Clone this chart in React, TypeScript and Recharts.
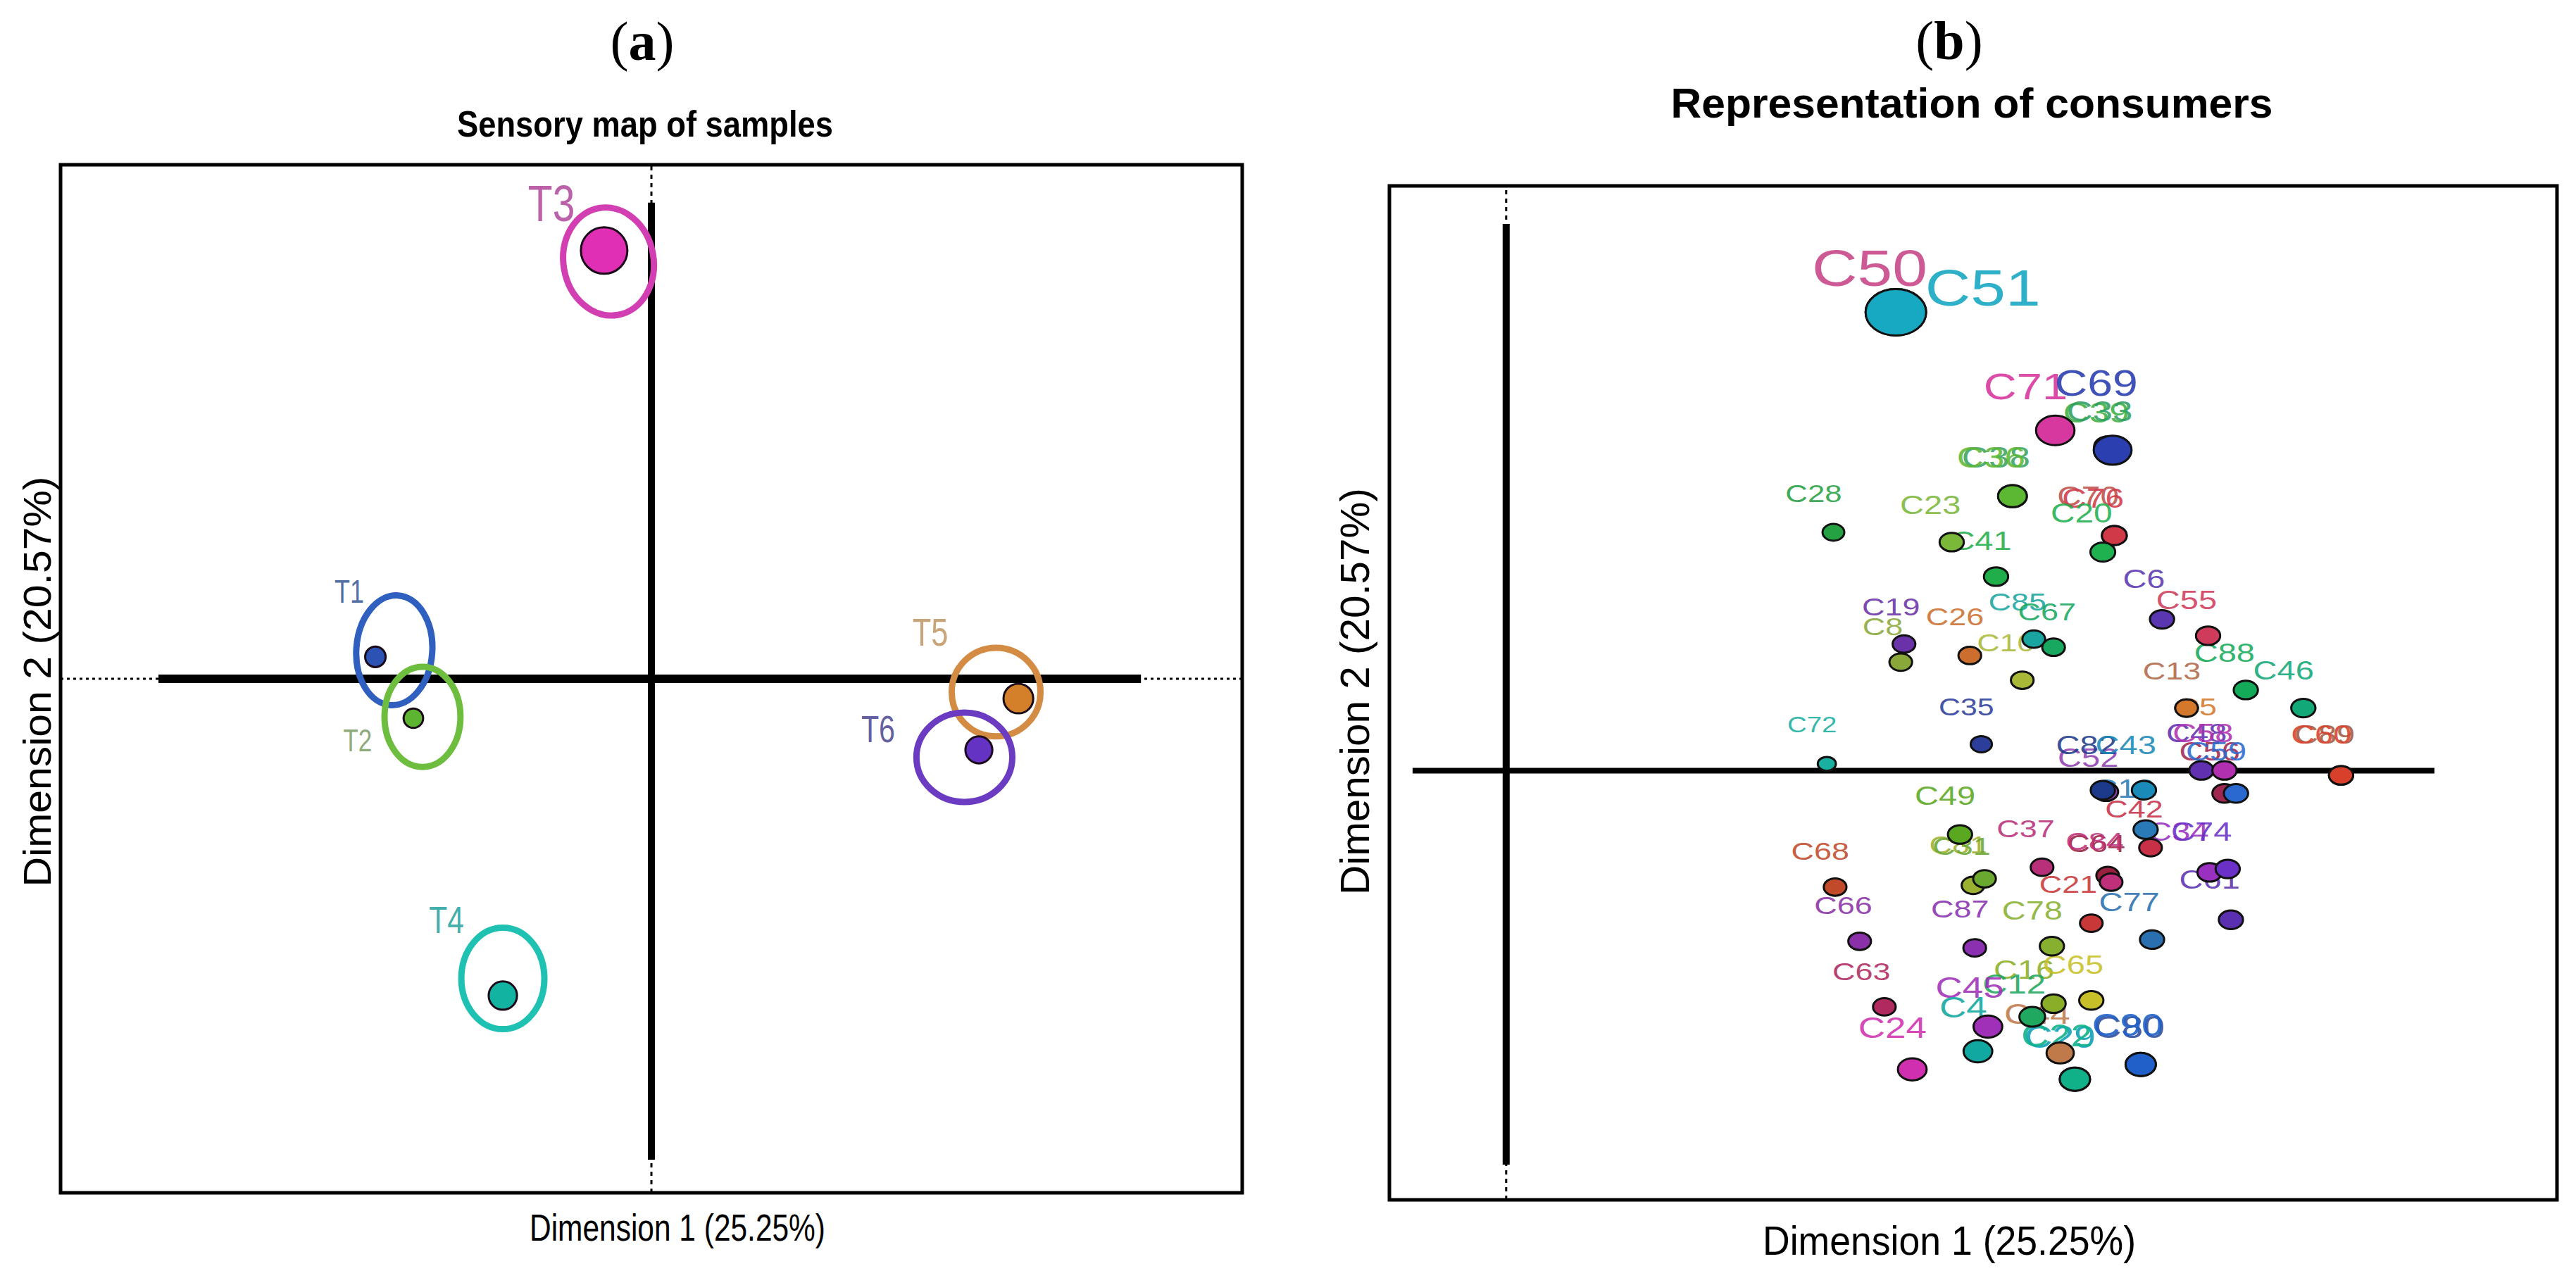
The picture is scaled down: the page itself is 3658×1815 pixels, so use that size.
import React from 'react';
import { ScatterChart, Scatter, XAxis, YAxis, ReferenceLine, ReferenceArea } from 'recharts';

// (a) sensory map of samples
const samples = ['T1', 'T2', 'T3', 'T4', 'T5', 'T6'];
const sampleDim1 = [-1.635, -1.41, -0.28, -0.88, 2.174, 1.94];
const sampleDim2 = [0.13, -0.234, 2.541, -1.88, -0.117, -0.422];
const sampleWeight = [0.44, 0.42, 1.0, 0.61, 0.64, 0.58];
// confidence ellipses (centre + half axes, in dimension units)
const ellipseDim1 = [-1.523, -1.356, -0.254, -0.88, 2.042, 1.854];
const ellipseDim2 = [0.169, -0.226, 2.476, -1.778, -0.079, -0.466];
const ellipseHalf1 = [0.225, 0.225, 0.267, 0.246, 0.263, 0.284];
const ellipseHalf2 = [0.326, 0.297, 0.322, 0.301, 0.263, 0.265];
const sampleLabelDim1 = [-1.79, -1.74, -0.592, -1.214, 1.652, 1.343];
const sampleLabelDim2 = [0.522, -0.364, 2.825, -1.425, 0.28, -0.297];

// (b) representation of consumers
const consumers = [
  'C50', 'C51', 'C71', 'C39', 'C33', 'C69', 'C38', 'C36', 'C28', 'C23',
  'C41', 'C70', 'C76', 'C20', 'C6', 'C55', 'C88', 'C46', 'C13', 'C5',
  'C19', 'C8', 'C26', 'C85', 'C67', 'C10', 'C35', 'C72', 'C89', 'C60',
  'C48', 'C58', 'C56', 'C59', 'C52', 'C82', 'C43', 'C18', 'C42', 'C49',
  'C81', 'C31', 'C37', 'C64', 'C84', 'C34', 'C74', 'C61', 'C21', 'C77',
  'C68', 'C66', 'C87', 'C78', 'C63', 'C16', 'C65', 'C12', 'C45', 'C44',
  'C4', 'C24', 'C29', 'C22', 'C80', 'C90',
];
const consumerDim1 = [
  2.303, 2.303, 3.245, 3.575, 3.555, 3.584, 2.992, 2.992, 1.934, 2.633,
  2.895, 3.594, 3.594, 3.526, 3.876, 4.148, 4.371, 4.711, 4.021, 4.021,
  2.351, 2.332, 2.74, 3.118, 3.235, 3.05, 2.808, 1.895, 4.934, 4.934,
  4.109, 4.245, 4.245, 4.313, 3.545, 3.526, 3.769, 3.779, 3.808, 2.682,
  2.759, 2.827, 3.167, 3.555, 3.575, 4.157, 4.264, 4.283, 3.458, 3.817,
  1.944, 2.089, 2.769, 3.225, 2.235, 3.235, 3.458, 3.109, 2.847, 3.274,
  2.788, 2.4, 3.361, 3.361, 3.75, 3.75,
];
const consumerDim2 = [
  2.712, 2.712, 2.013, 1.906, 1.916, 1.896, 1.624, 1.624, 1.41, 1.352,
  1.148, 1.391, 1.391, 1.293, 0.895, 0.798, 0.477, 0.37, 0.37, 0.37,
  0.749, 0.642, 0.681, 0.778, 0.73, 0.535, 0.156, 0.04, -0.028, -0.028,
  0.001, 0.001, -0.135, -0.135, -0.125, -0.116, -0.116, -0.349, -0.456, -0.378,
  -0.679, -0.64, -0.572, -0.621, -0.66, -0.602, -0.582, -0.883, -0.903, -1.0,
  -0.689, -1.01, -1.049, -1.039, -1.398, -1.379, -1.36, -1.457, -1.515, -1.671,
  -1.661, -1.768, -1.826, -1.826, -1.739, -1.739,
];
const consumerWeight = [
  2.0, 2.0, 1.27, 0.9, 0.9, 1.25, 0.95, 0.95, 0.72, 0.8,
  0.8, 0.82, 0.82, 0.82, 0.8, 0.8, 0.8, 0.8, 0.75, 0.75,
  0.75, 0.75, 0.75, 0.75, 0.75, 0.75, 0.7, 0.6, 0.8, 0.8,
  0.8, 0.8, 0.8, 0.8, 0.8, 0.8, 0.8, 0.8, 0.75, 0.8,
  0.75, 0.75, 0.75, 0.75, 0.75, 0.8, 0.8, 0.8, 0.75, 0.8,
  0.75, 0.75, 0.75, 0.8, 0.75, 0.8, 0.8, 0.85, 0.95, 0.9,
  0.95, 0.95, 1.0, 1.0, 1.0, 1.0,
];
const consumerLabelDim1 = [
  2.148, 2.817, 3.07, 3.487, 3.507, 3.487, 2.895, 2.866, 1.817, 2.507,
  2.808, 3.439, 3.468, 3.4, 3.769, 4.021, 4.245, 4.594, 3.934, 4.08,
  2.274, 2.225, 2.652, 3.021, 3.196, 2.953, 2.72, 1.808, 4.837, 4.817,
  4.08, 4.118, 4.157, 4.196, 3.439, 3.429, 3.662, 3.652, 3.711, 2.594,
  2.672, 2.691, 3.07, 3.487, 3.478, 3.973, 4.109, 4.157, 3.322, 3.682,
  1.856, 1.992, 2.682, 3.109, 2.099, 3.06, 3.351, 3.002, 2.74, 3.138,
  2.701, 2.283, 3.274, 3.254, 3.682, 3.672,
];
const consumerLabelDim2 = [
  2.975, 2.858, 2.275, 2.12, 2.129, 2.294, 1.857, 1.857, 1.643, 1.575,
  1.362, 1.624, 1.614, 1.527, 1.138, 1.012, 0.701, 0.594, 0.594, 0.38,
  0.973, 0.856, 0.914, 1.002, 0.944, 0.759, 0.38, 0.273, 0.215, 0.215,
  0.224, 0.224, 0.118, 0.118, 0.079, 0.156, 0.156, -0.106, -0.223, -0.145,
  -0.436, -0.446, -0.339, -0.427, -0.417, -0.359, -0.359, -0.64, -0.67, -0.776,
  -0.475, -0.796, -0.815, -0.825, -1.185, -1.175, -1.146, -1.262, -1.282, -1.437,
  -1.398, -1.516, -1.574, -1.564, -1.516, -1.505,
];
const consumerColors = [
  '#c8488a', '#17a8c2', '#d6389f', '#3cb043', '#2fa060', '#2b3fb0', '#3aa360', '#5cb832', '#25a042', '#7ab83a',
  '#1fae4a', '#c0504a', '#d03a48', '#1fb050', '#5a36b0', '#cf3b5b', '#13aa5a', '#12a878', '#b06848', '#d4782c',
  '#6a32a8', '#8aa83a', '#cc6e2e', '#1aa5a0', '#18a860', '#aab838', '#2c3e9a', '#1ab0a0', '#a05a40', '#d8402c',
  '#6030b0', '#b030b0', '#a02850', '#2a6ad0', '#9040b0', '#1d3a8a', '#1a8ab8', '#2a7ab8', '#c83048', '#5aa820',
  '#9ab030', '#6aa830', '#b8307a', '#9a2040', '#c0307a', '#9a30c0', '#6a30c8', '#5a30b0', '#c83838', '#2a70b0',
  '#c04a2a', '#8a30a8', '#8a30b0', '#88b030', '#b02a60', '#8aae28', '#c8c028', '#20a860', '#a030b8', '#c07a4a',
  '#10a8a0', '#d030b0', '#10a0b8', '#10b088', '#3050a0', '#2060c8',
];

const sampleFill = ['#2c52b4', '#5cb431', '#e02fb4', '#12b3a0', '#d4802a', '#6533c4'];
const sampleRing = ['#2f5fbf', '#6dbd3e', '#d23fb2', '#1fc2b2', '#d48c45', '#6b3cc2'];
const sampleText = ['#3b5b95', '#7fa06a', '#b4509e', '#2aa3a0', '#c49a6a', '#4f4a92'];
const ringTilt = [4, 0, -10, 0, 0, 0];

const FONT = '"Liberation Sans", Arial, sans-serif';

// panel geometry
const A_W = 1830;
const A_H = 1815;
const A_MARGIN = { top: 234, right: 66, bottom: 121, left: 86 };
const A_XDOM: [number, number] = [-3.5, 3.5];
const A_YDOM: [number, number] = [-3.05, 3.05];
const A_PX = (A_W - A_MARGIN.left - A_MARGIN.right) / (A_XDOM[1] - A_XDOM[0]);
const A_PY = (A_H - A_MARGIN.top - A_MARGIN.bottom) / (A_YDOM[1] - A_YDOM[0]);

const B_W = 1828;
const B_H = 1815;
const B_MARGIN = { top: 264, right: 27, bottom: 111, left: 143 };
const B_XDOM: [number, number] = [-0.69, 6.21];
const B_YDOM: [number, number] = [-2.54, 3.46];

const ringData = samples.map((id, i) => ({
  id, x: ellipseDim1[i], y: ellipseDim2[i], hx: ellipseHalf1[i], hy: ellipseHalf2[i], color: sampleRing[i], tilt: ringTilt[i],
}));
const samplePoints = samples.map((id, i) => ({ id, x: sampleDim1[i], y: sampleDim2[i], w: sampleWeight[i], color: sampleFill[i] }));
const sampleLabels = samples.map((id, i) => ({
  id, x: sampleLabelDim1[i], y: sampleLabelDim2[i], fs: 25 + 48 * sampleWeight[i], sx: 0.78, color: sampleText[i],
}));

const consumerPoints = consumers.map((id, i) => ({ id, x: consumerDim1[i], y: consumerDim2[i], w: consumerWeight[i], color: consumerColors[i] }));
const consumerLabels = consumers.map((id, i) => ({
  id, x: consumerLabelDim1[i], y: consumerLabelDim2[i], fs: 44 * Math.pow(consumerWeight[i], 0.7), sx: 1.25, color: consumerColors[i],
}));

const Ring = (p: any) => (
  <ellipse
    cx={p.cx}
    cy={p.cy}
    rx={p.payload.hx * A_PX}
    ry={p.payload.hy * A_PY}
    fill="none"
    stroke={p.payload.color}
    strokeWidth={9}
    transform={`rotate(${p.payload.tilt} ${p.cx} ${p.cy})`}
  />
);

const SampleDot = (p: any) => (
  <circle cx={p.cx} cy={p.cy} r={33 * p.payload.w} fill={p.payload.color} stroke="#1a0a1a" strokeWidth={3} />
);

const ConsumerDot = (p: any) => (
  <ellipse cx={p.cx} cy={p.cy} rx={21.5 * p.payload.w} ry={16.5 * p.payload.w} fill={p.payload.color} stroke="#111" strokeWidth={3} />
);

const TextMark = (p: any) => {
  const d = p.payload;
  return (
    <text
      transform={`translate(${p.cx},${p.cy}) scale(${d.sx},1)`}
      textAnchor="middle"
      dy="0.36em"
      fontSize={d.fs}
      fontFamily={FONT}
      fill={d.color}
      fillOpacity={0.9}
    >
      {d.id}
    </text>
  );
};

const SamplesMap = () => (
  <ScatterChart width={A_W} height={A_H} margin={A_MARGIN}>
    <XAxis type="number" dataKey="x" domain={A_XDOM} hide allowDataOverflow />
    <YAxis type="number" dataKey="y" domain={A_YDOM} hide allowDataOverflow />
    <ReferenceArea x1={A_XDOM[0]} x2={A_XDOM[1]} y1={A_YDOM[0]} y2={A_YDOM[1]} fill="none" fillOpacity={0} stroke="#000" strokeWidth={5} />
    <ReferenceLine y={0} stroke="#000" strokeWidth={3} strokeDasharray="4 5" />
    <ReferenceLine x={0} stroke="#000" strokeWidth={3} strokeDasharray="6 6" />
    <ReferenceLine segment={[{ x: -2.92, y: 0 }, { x: 2.9, y: 0 }]} stroke="#000" strokeWidth={12} />
    <ReferenceLine segment={[{ x: 0, y: 2.825 }, { x: 0, y: -2.854 }]} stroke="#000" strokeWidth={10} />
    <Scatter data={ringData} shape={Ring} isAnimationActive={false} />
    <Scatter data={samplePoints} shape={SampleDot} isAnimationActive={false} />
    <Scatter data={sampleLabels} shape={TextMark} isAnimationActive={false} />
  </ScatterChart>
);

const ConsumersMap = () => (
  <ScatterChart width={B_W} height={B_H} margin={B_MARGIN}>
    <XAxis type="number" dataKey="x" domain={B_XDOM} hide allowDataOverflow />
    <YAxis type="number" dataKey="y" domain={B_YDOM} hide allowDataOverflow />
    <ReferenceArea x1={B_XDOM[0]} x2={B_XDOM[1]} y1={B_YDOM[0]} y2={B_YDOM[1]} fill="none" fillOpacity={0} stroke="#000" strokeWidth={5} />
    <ReferenceLine x={0} stroke="#000" strokeWidth={3} strokeDasharray="6 6" />
    <ReferenceLine segment={[{ x: 0, y: 3.235 }, { x: 0, y: -2.332 }]} stroke="#000" strokeWidth={10} />
    <ReferenceLine segment={[{ x: -0.553, y: 0 }, { x: 5.486, y: 0 }]} stroke="#000" strokeWidth={8} />
    <Scatter data={consumerLabels} shape={TextMark} isAnimationActive={false} />
    <Scatter data={consumerPoints} shape={ConsumerDot} isAnimationActive={false} />
  </ScatterChart>
);

export default function App() {
  return (
    <div style={{ position: 'absolute', left: 0, top: 0, width: 3658, height: 1815, background: '#fff', overflow: 'hidden' }}>
      <div style={{ position: 'absolute', left: 0, top: 0 }}>
        <SamplesMap />
      </div>
      <div style={{ position: 'absolute', left: A_W, top: 0 }}>
        <ConsumersMap />
      </div>
      <svg width={3658} height={1815} style={{ position: 'absolute', left: 0, top: 0, pointerEvents: 'none' }}>
        <text x={912} y={85} textAnchor="middle" fontFamily='"Liberation Serif", serif' fontSize={78}>
          (<tspan fontWeight="bold">a</tspan>)
        </text>
        <text x={2768} y={84} textAnchor="middle" fontFamily='"Liberation Serif", serif' fontSize={78}>
          (<tspan fontWeight="bold">b</tspan>)
        </text>
        <text x={916} y={194} textAnchor="middle" fontFamily={FONT} fontWeight="bold" fontSize={52} textLength={534} lengthAdjust="spacingAndGlyphs">
          Sensory map of samples
        </text>
        <text x={2800} y={167} textAnchor="middle" fontFamily={FONT} fontWeight="bold" fontSize={60} textLength={855} lengthAdjust="spacingAndGlyphs">
          Representation of consumers
        </text>
        <text x={962} y={1762} textAnchor="middle" fontFamily={FONT} fontSize={54} textLength={420} lengthAdjust="spacingAndGlyphs">
          Dimension 1 (25.25%)
        </text>
        <text x={2768} y={1782} textAnchor="middle" fontFamily={FONT} fontSize={58} textLength={530} lengthAdjust="spacingAndGlyphs">
          Dimension 1 (25.25%)
        </text>
        <text transform="translate(72,968) rotate(-90)" textAnchor="middle" fontFamily={FONT} fontSize={56} textLength={583} lengthAdjust="spacingAndGlyphs">
          Dimension 2 (20.57%)
        </text>
        <text transform="translate(1944,982) rotate(-90)" textAnchor="middle" fontFamily={FONT} fontSize={58} textLength={578} lengthAdjust="spacingAndGlyphs">
          Dimension 2 (20.57%)
        </text>
      </svg>
    </div>
  );
}
